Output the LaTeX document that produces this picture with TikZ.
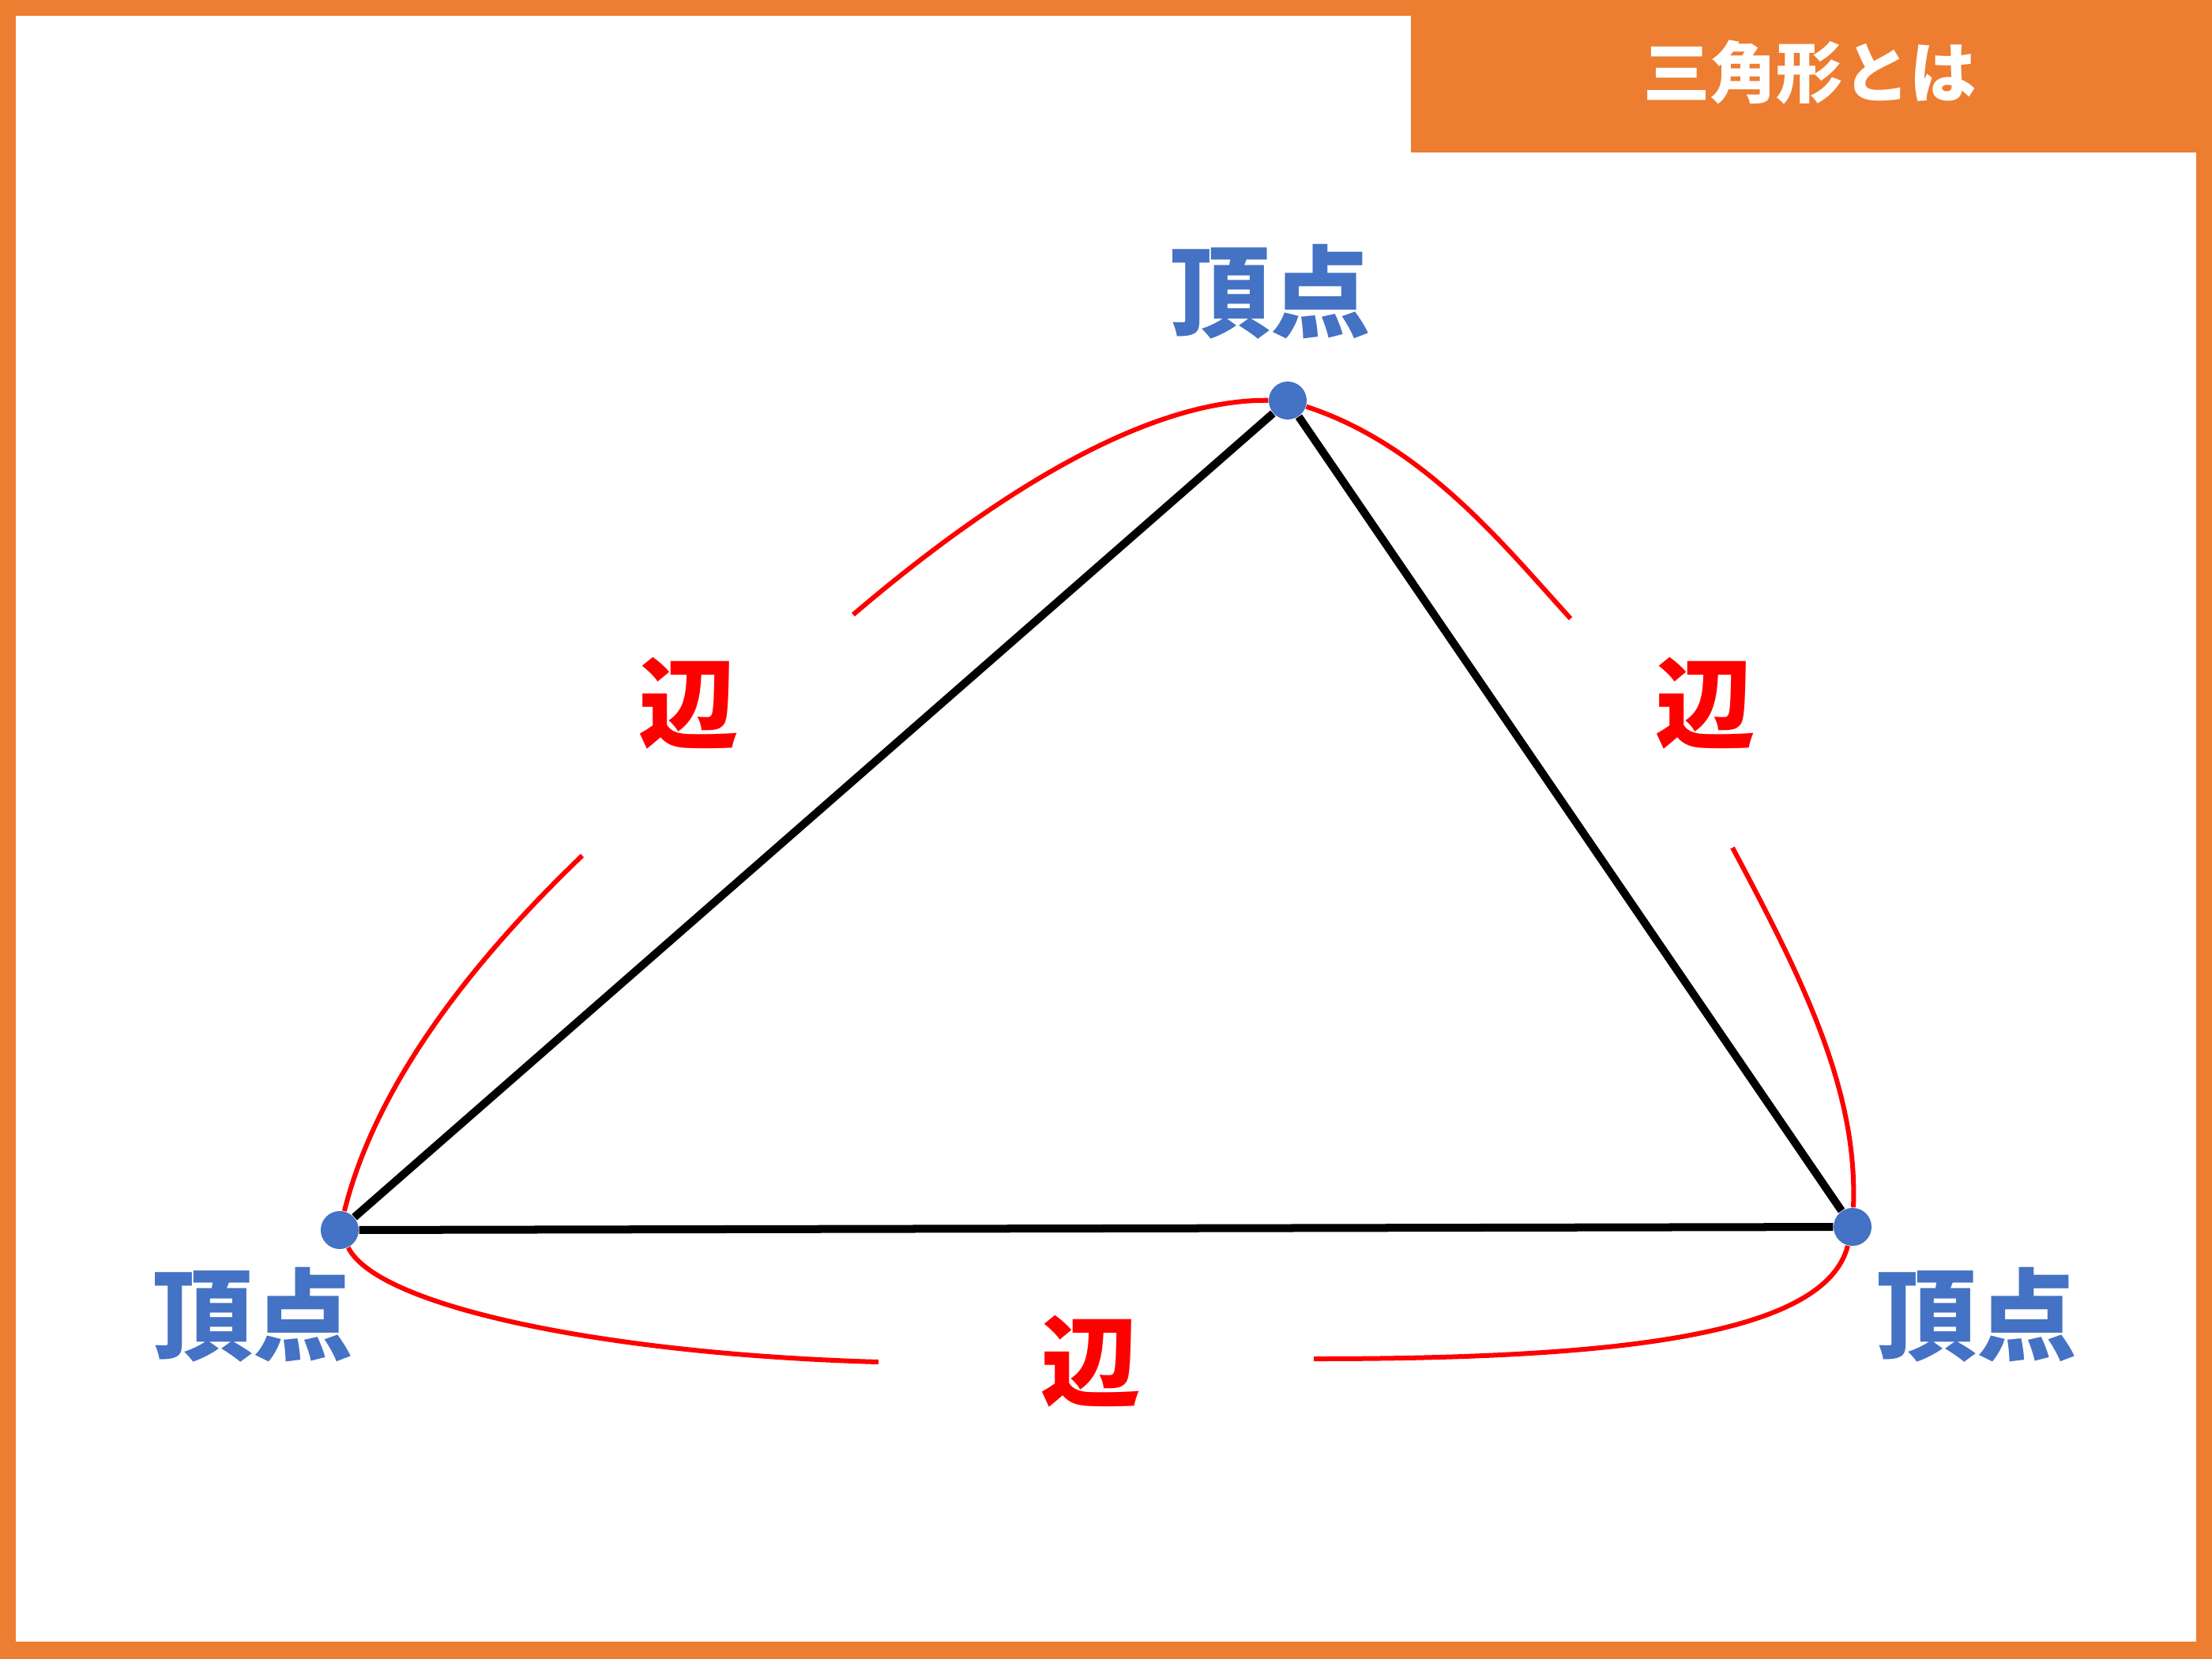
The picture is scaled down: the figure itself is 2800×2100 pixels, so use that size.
\documentclass[tikz,border=0pt]{standalone}
\usepackage{fontspec}
\newfontfamily\jp{Noto Sans CJK JP}
\definecolor{frameorange}{HTML}{ED7D31}
\definecolor{vertexblue}{HTML}{4472C4}
\tikzset{
    vertex/.style={circle, fill=vertexblue, inner sep=0pt, minimum size=0.48cm},
    side/.style={black, line width=0.1cm},
    sidearc/.style={red, line width=0.06cm},
    vlabel/.style={text=vertexblue, font=\jp\bfseries\fontsize{36pt}{40pt}\selectfont},
    elabel/.style={text=red, font=\jp\bfseries\fontsize{36pt}{40pt}\selectfont}
}
\begin{document}
\begin{tikzpicture}[x=0.01cm, y=-0.01cm]
        \useasboundingbox (0,0) rectangle (2800,2100);
        \fill[frameorange] (0,0) rectangle (2800,2100);
        \fill[white] (20,20) rectangle (2780,2078);
        \fill[frameorange] (1786,0) rectangle (2800,193);
        \node[text=white, font=\jp\bfseries\fontsize{24pt}{28pt}\selectfont] (title) at (2291,92) {三角形とは};
        \node[vertex] (L) at (430,1557) {};
        \node[vertex] (T) at (1630,507) {};
        \node[vertex] (R) at (2345,1553) {};
        \coordinate (LTa) at (737,1083);
        \coordinate (LTb) at (1080,778);
        \coordinate (TRa) at (1988,783);
        \coordinate (TRb) at (2193,1073);
        \coordinate (LRa) at (1112,1724);
        \coordinate (LRb) at (1663,1720);
        \draw[sidearc] (L) .. controls (482,1347) and (636,1180) .. (LTa);
        \draw[sidearc] (LTb) .. controls (1217,661) and (1430,505) .. (T);
        \draw[sidearc] (T) .. controls (1801,563) and (1900,686) .. (TRa);
        \draw[sidearc] (TRb) .. controls (2282,1240) and (2352,1380) .. (R);
        \draw[sidearc] (L) .. controls (477,1653) and (762,1714) .. (LRa);
        \draw[sidearc] (LRb) .. controls (2050,1720) and (2310,1690) .. (R);
        \draw[side] (L) -- (T) -- (R) -- (L);
        \node[vlabel] (Tlabel) at (1608,369) {頂点};
        \node[vlabel] (Llabel) at (320,1664) {頂点};
        \node[vlabel] (Rlabel) at (2502,1664) {頂点};
        \node[elabel] (LTlabel) at (872,890) {辺};
        \node[elabel] (TRlabel) at (2159,890) {辺};
        \node[elabel] (LRlabel) at (1381,1723) {辺};
    \end{tikzpicture}
\end{document}
